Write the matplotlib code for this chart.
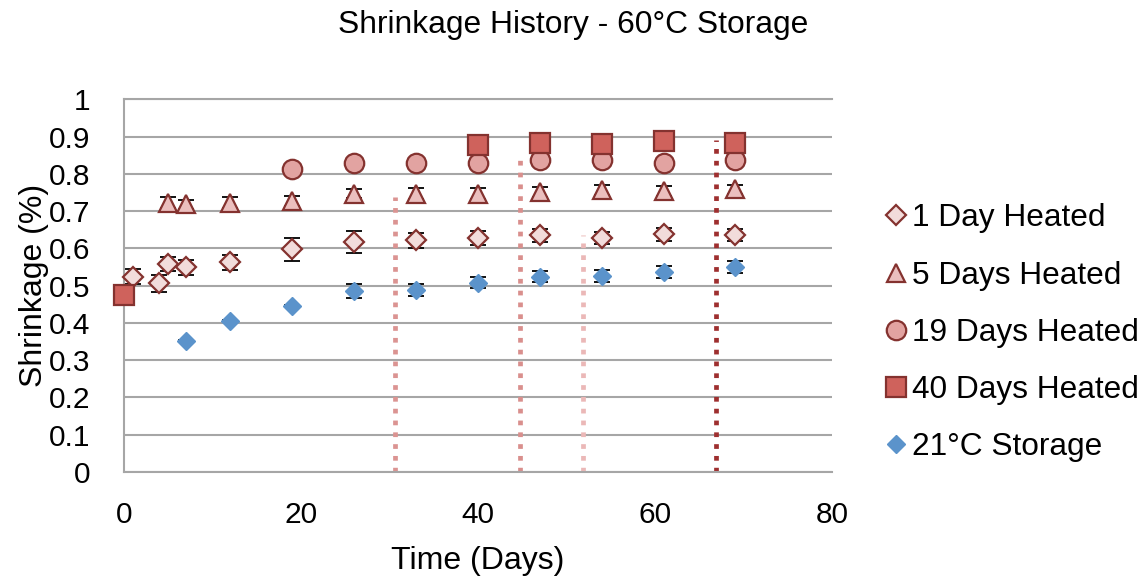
import matplotlib
matplotlib.use("Agg")
import matplotlib.pyplot as plt

plt.rcParams['font.family'] = ['Liberation Sans', 'DejaVu Sans']

# Series data (time in days, shrinkage in %)
one_day_t = [1, 4, 5, 7, 12, 19, 26, 33, 40, 47, 54, 61, 69]
one_day_y = [0.524, 0.506, 0.558, 0.549, 0.563, 0.597, 0.617, 0.622, 0.628, 0.635, 0.628, 0.638, 0.637]
one_day_err = [0.020, 0.022, 0.020, 0.021, 0.020, 0.031, 0.030, 0.020, 0.019, 0.018, 0.015, 0.017, 0.016]

five_day_t = [5, 7, 12, 19, 26, 33, 40, 47, 54, 61, 69]
five_day_y = [0.723, 0.718, 0.723, 0.727, 0.747, 0.747, 0.747, 0.751, 0.756, 0.754, 0.758]
five_day_err = [0.015, 0.013, 0.015, 0.014, 0.013, 0.015, 0.015, 0.013, 0.013, 0.013, 0.013]

nineteen_day_t = [19, 26, 33, 40, 47, 54, 61, 69]
nineteen_day_y = [0.814, 0.828, 0.829, 0.829, 0.836, 0.836, 0.828, 0.836]

forty_day_t = [0, 40, 47, 54, 61, 69]
forty_day_y = [0.476, 0.877, 0.884, 0.881, 0.887, 0.884]

room_t = [7, 12, 19, 26, 33, 40, 47, 54, 61, 69]
room_y = [0.352, 0.406, 0.446, 0.486, 0.488, 0.508, 0.524, 0.526, 0.536, 0.550]
room_err = [0.003, 0.003, 0.003, 0.018, 0.016, 0.014, 0.015, 0.016, 0.016, 0.016]

# Vertical markers: (day, top of line)
marker_days = [30.6, 44.8, 51.9, 66.9]
marker_tops = [0.738, 0.854, 0.635, 0.890]
marker_colors = ['#DB9492', '#D98F8D', '#EBB8B7', '#9E2F2F']

edge = '#84322F'

fig = plt.figure(figsize=(11.48, 5.80), dpi=100)
ax = fig.add_axes([0.108, 0.1862, 0.6167, 0.6426])

ax.set_xlim(0, 80)
ax.set_ylim(0, 1)
ax.set_xticks([0, 20, 40, 60, 80])
ax.set_yticks([i / 10 for i in range(11)])
ax.set_yticklabels(['0', '0.1', '0.2', '0.3', '0.4', '0.5', '0.6', '0.7', '0.8', '0.9', '1'])
ax.tick_params(axis='both', length=0, labelsize=21.5)
ax.tick_params(axis='y', pad=24)
ax.tick_params(axis='x', pad=21)

ax.yaxis.grid(True, color='#A6A6A6', linewidth=1.5)
ax.set_axisbelow(True)
for side in ['left', 'top', 'bottom']:
    ax.spines[side].set_color('#A6A6A6')
    ax.spines[side].set_linewidth(1.5)
ax.spines['right'].set_visible(False)

# Dotted vertical markers
for d, top, c in zip(marker_days, marker_tops, marker_colors):
    ax.plot([d, d], [0, top], color=c, linewidth=3.4,
            linestyle=(0, (1, 1.5)), dash_capstyle='butt', zorder=1.5)

# Error bars (drawn under the markers)
eb_kw = dict(fmt='none', ecolor='black', elinewidth=1.3, capsize=6, capthick=1.3, zorder=2)
ax.errorbar(one_day_t, one_day_y, yerr=one_day_err, **eb_kw)
ax.errorbar(five_day_t, five_day_y, yerr=five_day_err, **eb_kw)
ax.errorbar(room_t, room_y, yerr=room_err, **eb_kw)

ax.plot(one_day_t, one_day_y, linestyle='none', marker='D', markersize=10,
        markerfacecolor='#F2DCDB', markeredgecolor=edge, markeredgewidth=1.6,
        label='1 Day Heated', zorder=3, clip_on=False)
ax.plot(five_day_t, five_day_y, linestyle='none', marker='^', markersize=13.5,
        markerfacecolor='#EBBFBE', markeredgecolor=edge, markeredgewidth=1.6,
        label='5 Days Heated', zorder=3, clip_on=False)
ax.plot(nineteen_day_t, nineteen_day_y, linestyle='none', marker='o', markersize=14,
        markerfacecolor='#E2A3A1', markeredgecolor=edge, markeredgewidth=1.6,
        label='19 Days Heated', zorder=3, clip_on=False)
ax.plot(forty_day_t, forty_day_y, linestyle='none', marker='s', markersize=14,
        markerfacecolor='#CF625C', markeredgecolor=edge, markeredgewidth=1.6,
        label='40 Days Heated', zorder=3, clip_on=False)
ax.plot(room_t, room_y, linestyle='none', marker='D', markersize=9.5,
        markerfacecolor='#5B93CB', markeredgecolor='#5B93CB', markeredgewidth=1,
        label='21°C Storage', zorder=3, clip_on=False)

ax.set_xlabel('Time (Days)', fontsize=23, labelpad=12)
ax.set_ylabel('Shrinkage (%)', fontsize=23, labelpad=0)

fig.suptitle('Shrinkage History - 60°C Storage', fontsize=22.9, x=0.499, y=0.983)

leg = ax.legend(loc='center left', bbox_to_anchor=(0.771, 0.426),
                bbox_transform=fig.transFigure, frameon=False, fontsize=22.8,
                handlelength=0.7, handletextpad=0.15, labelspacing=0.86,
                borderaxespad=0, borderpad=0, markerscale=1.0)

fig.savefig('out.png', dpi=100)
